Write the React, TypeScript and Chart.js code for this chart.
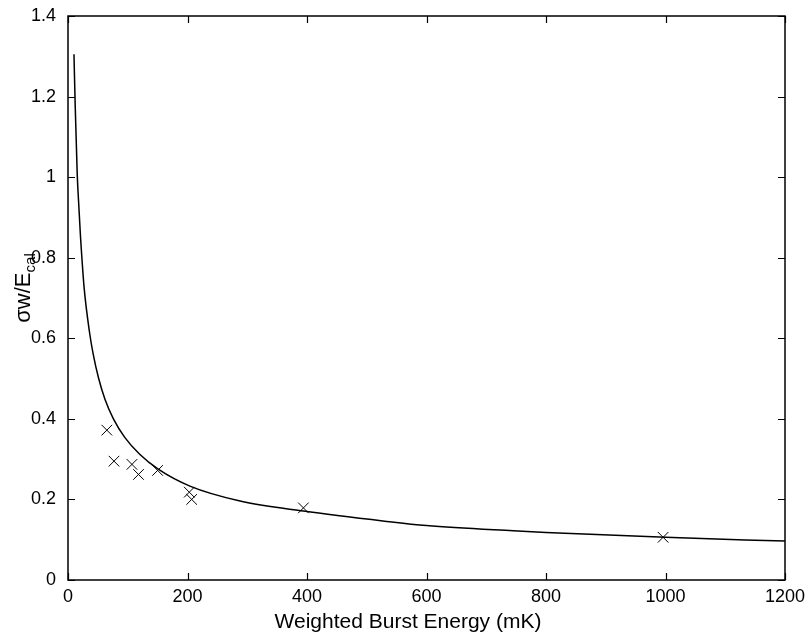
import React, { useEffect, useRef } from "react";
import { Chart, registerables } from "chart.js";

Chart.register(...registerables);

// Fitted curve
const curveX = [10, 12, 15.5, 17.5, 21, 23, 27, 36, 42, 51, 62, 76, 95, 120, 151, 204, 288, 394, 530, 600, 745, 800, 1000, 1200];
const curveY = [1.305, 1.18, 1.005, 0.945, 0.85, 0.805, 0.725, 0.615, 0.562, 0.502, 0.448, 0.4, 0.354, 0.312, 0.275, 0.233, 0.196, 0.171, 0.146, 0.135, 0.122, 0.118, 0.106, 0.0965];

// Measured points (x markers)
const pointX = [65, 77, 107, 118, 150, 203, 207, 394, 996];
const pointY = [0.372, 0.295, 0.287, 0.262, 0.272, 0.218, 0.2, 0.179, 0.106];

const xTicks = [0, 200, 400, 600, 800, 1000, 1200];
const yTicks = [0, 0.2, 0.4, 0.6, 0.8, 1, 1.2, 1.4];

const xTitle = "Weighted Burst Energy (mK)";
const yTitleMain = "σw/E";
const yTitleSub = "cal";

const FONT = "'Liberation Sans', Arial, Helvetica, sans-serif";

const framePlugin = {
  id: "frame",
  afterDraw(chart: any) {
    const { ctx, chartArea: a, scales } = chart;
    const xs = scales.x;
    const ys = scales.y;
    ctx.save();
    ctx.strokeStyle = "#000";
    ctx.lineWidth = 1.5;
    ctx.strokeRect(a.left, a.top, a.right - a.left, a.bottom - a.top);
    ctx.lineWidth = 1.2;
    const tl = 7;
    ctx.beginPath();
    xTicks.forEach((v) => {
      const px = Math.round(xs.getPixelForValue(v)) + 0.5;
      ctx.moveTo(px, a.bottom);
      ctx.lineTo(px, a.bottom - tl);
      ctx.moveTo(px, a.top);
      ctx.lineTo(px, a.top + tl);
    });
    yTicks.forEach((v) => {
      const py = Math.round(ys.getPixelForValue(v)) + 0.5;
      ctx.moveTo(a.left, py);
      ctx.lineTo(a.left + tl, py);
      ctx.moveTo(a.right, py);
      ctx.lineTo(a.right - tl, py);
    });
    ctx.stroke();

    // x title
    ctx.fillStyle = "#000";
    ctx.font = `21px ${FONT}`;
    ctx.textAlign = "center";
    ctx.textBaseline = "alphabetic";
    ctx.fillText(xTitle, 408, 628);

    // y title (rotated) with subscript
    ctx.translate(30, 288);
    ctx.rotate(-Math.PI / 2);
    ctx.font = `22px ${FONT}`;
    const w1 = ctx.measureText(yTitleMain).width;
    ctx.font = `15px ${FONT}`;
    const w2 = ctx.measureText(yTitleSub).width;
    const start = -(w1 + w2) / 2;
    ctx.textAlign = "left";
    ctx.font = `22px ${FONT}`;
    ctx.fillText(yTitleMain, start, 0);
    ctx.font = `15px ${FONT}`;
    ctx.fillText(yTitleSub, start + w1, 5);
    ctx.restore();
  },
};

export default function App() {
  const ref = useRef<HTMLCanvasElement | null>(null);

  useEffect(() => {
    if (!ref.current) return;
    const chart = new Chart(ref.current, {
      type: "scatter",
      data: {
        datasets: [
          {
            type: "line" as any,
            data: curveX.map((x, i) => ({ x, y: curveY[i] })),
            borderColor: "#000",
            borderWidth: 1.5,
            pointRadius: 0,
            fill: false,
            cubicInterpolationMode: "monotone",
            showLine: true,
          } as any,
          {
            data: pointX.map((x, i) => ({ x, y: pointY[i] })),
            pointStyle: "crossRot",
            pointRadius: 7.5,
            borderColor: "#000",
            borderWidth: 1,
            backgroundColor: "#000",
          } as any,
        ],
      },
      options: {
        animation: false,
        responsive: false,
        maintainAspectRatio: false,
        layout: { padding: { top: 16, right: 21, left: 0, bottom: 0 } },
        plugins: { legend: { display: false }, tooltip: { enabled: false } },
        scales: {
          x: {
            type: "linear",
            min: 0,
            max: 1200,
            grid: { display: false },
            border: { display: false },
            ticks: {
              stepSize: 200,
              padding: -2,
              color: "#000",
              font: { family: FONT, size: 18 },
              maxRotation: 0,
              autoSkip: false,
              callback: (v: any) => String(v),
            },
            afterFit(scale: any) {
              scale.height = 53;
            },
          },
          y: {
            type: "linear",
            min: 0,
            max: 1.4,
            grid: { display: false },
            border: { display: false },
            ticks: {
              stepSize: 0.2,
              padding: 4,
              color: "#000",
              font: { family: FONT, size: 18 },
              autoSkip: false,
              callback: (v: any) => String(Math.round(Number(v) * 10) / 10),
            },
            afterFit(scale: any) {
              scale.width = 68;
            },
          },
        },
      },
      plugins: [framePlugin],
    });
    return () => chart.destroy();
  }, []);

  return (
    <div style={{ position: "absolute", left: 0, top: 0, width: 806, height: 633, background: "#fff" }}>
      <canvas ref={ref} width={806} height={633} style={{ width: 806, height: 633, display: "block" }} />
    </div>
  );
}
